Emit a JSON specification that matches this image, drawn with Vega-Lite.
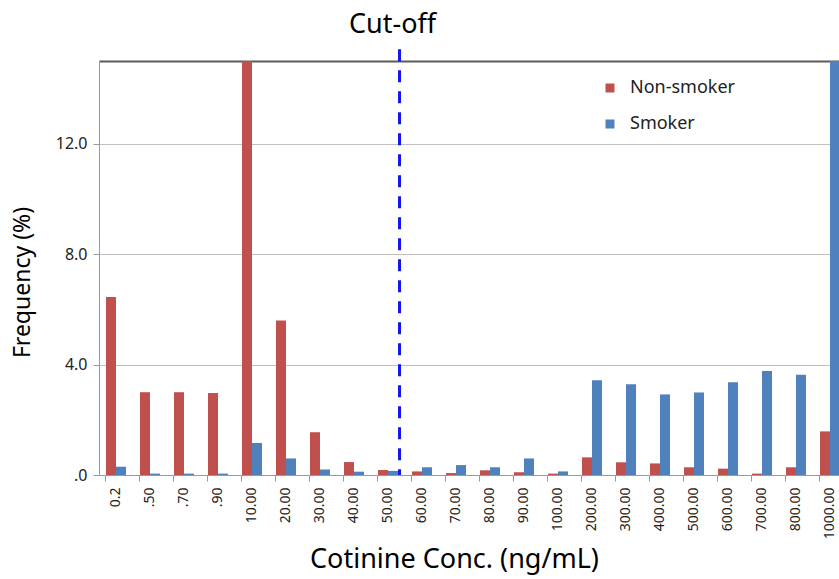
{
  "$schema": "https://vega.github.io/schema/vega-lite/v6.json",
  "width": 748,
  "height": 414,
  "autosize": "none",
  "padding": {"left": 99, "top": 61, "right": -8, "bottom": 104},
  "config": {"view": {"stroke": null}, "font": "Noto Sans"},
  "datasets": {
    "freq": [
      {"conc": "0.2", "group": "Non-smoker", "freq": 6.45},
      {"conc": "0.2", "group": "Smoker", "freq": 0.3},
      {"conc": ".50", "group": "Non-smoker", "freq": 3.0},
      {"conc": ".50", "group": "Smoker", "freq": 0.05},
      {"conc": ".70", "group": "Non-smoker", "freq": 3.0},
      {"conc": ".70", "group": "Smoker", "freq": 0.05},
      {"conc": ".90", "group": "Non-smoker", "freq": 2.97},
      {"conc": ".90", "group": "Smoker", "freq": 0.05},
      {"conc": "10.00", "group": "Non-smoker", "freq": 16.5},
      {"conc": "10.00", "group": "Smoker", "freq": 1.16},
      {"conc": "20.00", "group": "Non-smoker", "freq": 5.6},
      {"conc": "20.00", "group": "Smoker", "freq": 0.6},
      {"conc": "30.00", "group": "Non-smoker", "freq": 1.55},
      {"conc": "30.00", "group": "Smoker", "freq": 0.2},
      {"conc": "40.00", "group": "Non-smoker", "freq": 0.47},
      {"conc": "40.00", "group": "Smoker", "freq": 0.12},
      {"conc": "50.00", "group": "Non-smoker", "freq": 0.18},
      {"conc": "50.00", "group": "Smoker", "freq": 0.15},
      {"conc": "60.00", "group": "Non-smoker", "freq": 0.13},
      {"conc": "60.00", "group": "Smoker", "freq": 0.28},
      {"conc": "70.00", "group": "Non-smoker", "freq": 0.07},
      {"conc": "70.00", "group": "Smoker", "freq": 0.36},
      {"conc": "80.00", "group": "Non-smoker", "freq": 0.17},
      {"conc": "80.00", "group": "Smoker", "freq": 0.28},
      {"conc": "90.00", "group": "Non-smoker", "freq": 0.1},
      {"conc": "90.00", "group": "Smoker", "freq": 0.6},
      {"conc": "100.00", "group": "Non-smoker", "freq": 0.05},
      {"conc": "100.00", "group": "Smoker", "freq": 0.13},
      {"conc": "200.00", "group": "Non-smoker", "freq": 0.64},
      {"conc": "200.00", "group": "Smoker", "freq": 3.43},
      {"conc": "300.00", "group": "Non-smoker", "freq": 0.46},
      {"conc": "300.00", "group": "Smoker", "freq": 3.29},
      {"conc": "400.00", "group": "Non-smoker", "freq": 0.42},
      {"conc": "400.00", "group": "Smoker", "freq": 2.92},
      {"conc": "500.00", "group": "Non-smoker", "freq": 0.28},
      {"conc": "500.00", "group": "Smoker", "freq": 2.99},
      {"conc": "600.00", "group": "Non-smoker", "freq": 0.23},
      {"conc": "600.00", "group": "Smoker", "freq": 3.36},
      {"conc": "700.00", "group": "Non-smoker", "freq": 0.05},
      {"conc": "700.00", "group": "Smoker", "freq": 3.77},
      {"conc": "800.00", "group": "Non-smoker", "freq": 0.28},
      {"conc": "800.00", "group": "Smoker", "freq": 3.63},
      {"conc": "1000.00", "group": "Non-smoker", "freq": 1.58},
      {"conc": "1000.00", "group": "Smoker", "freq": 40}
    ],
    "cutoff": [
      {"conc": "50.00", "label": "Cut-off"}
    ]
  },
  "layer": [
    {
      "data": {"name": "freq"},
      "mark": {"type": "bar", "clip": true},
      "encoding": {
        "x": {
          "field": "conc",
          "type": "nominal",
          "scale": {
            "domain": ["0.2", ".50", ".70", ".90", "10.00", "20.00", "30.00", "40.00", "50.00", "60.00", "70.00", "80.00", "90.00", "100.00", "200.00", "300.00", "400.00", "500.00", "600.00", "700.00", "800.00", "1000.00"],
            "paddingInner": 0.41,
            "paddingOuter": 0.205
          },
          "axis": {
            "title": "Cotinine Conc. (ng/mL)",
            "titleFontSize": 27,
            "titleFontWeight": "normal",
            "titleColor": "#000000",
            "titleX": 355,
            "titleY": 92,
            "titleAlign": "center",
            "titleBaseline": "alphabetic",
            "labelAngle": -90,
            "labelFontSize": 14,
            "labelColor": "#222222",
            "labelPadding": 6,
            "tickSize": 6,
            "bandPosition": 0,
            "domainColor": "#9a9a9a",
            "tickColor": "#9a9a9a",
            "zindex": 1
          }
        },
        "xOffset": {"field": "group", "type": "nominal", "sort": ["Non-smoker", "Smoker"], "scale": {"paddingInner": 0, "paddingOuter": 0}},
        "y": {
          "field": "freq",
          "type": "quantitative",
          "scale": {"domain": [0, 15], "nice": false},
          "axis": {
            "title": "Frequency (%)",
            "titleFontSize": 23,
            "titleFontWeight": "normal",
            "titleColor": "#000000",
            "titleX": -77,
            "titleY": 221,
            "titleAlign": "center",
            "titleBaseline": "middle",
            "values": [0, 4, 8, 12, 15],
            "labelExpr": "datum.value == 15 ? '' : (datum.value == 0 ? '.0' : format(datum.value, '.1f'))",
            "labelFontSize": 16,
            "labelColor": "#222222",
            "labelPadding": 6,
            "tickSize": 6,
            "tickColor": {"condition": {"test": "datum.value == 15", "value": "transparent"}, "value": "#9a9a9a"},
            "domainColor": "#9a9a9a",
            "grid": true,
            "gridColor": {"condition": {"test": "datum.value == 15", "value": "#5a5a5a"}, "value": "#c0c0c0"},
            "gridWidth": {"condition": {"test": "datum.value == 15", "value": 2}, "value": 1.2},
            "gridOpacity": 1
          }
        },
        "color": {
          "field": "group",
          "type": "nominal",
          "scale": {"domain": ["Non-smoker", "Smoker"], "range": ["#C0504D", "#4F81BD"]},
          "legend": {
            "title": null,
            "orient": "none",
            "legendX": 502,
            "legendY": 18,
            "symbolType": "square",
            "symbolSize": 81,
            "symbolStrokeWidth": 0,
            "labelFontSize": 18,
            "labelColor": "#222222",
            "labelOffset": 11,
            "rowPadding": 18
          }
        }
      }
    },
    {
      "data": {"name": "cutoff"},
      "mark": {"type": "rule", "color": "#1414F0", "strokeWidth": 3, "strokeDash": [12, 9]},
      "encoding": {
        "x": {"field": "conc", "type": "nominal", "bandPosition": 1.075},
        "y": {"datum": 15.43},
        "y2": {"datum": 0}
      }
    },
    {
      "data": {"name": "cutoff"},
      "mark": {"type": "text", "fontSize": 27, "dx": -7, "baseline": "alphabetic", "align": "center", "color": "#000000"},
      "encoding": {
        "x": {"field": "conc", "type": "nominal", "bandPosition": 1.075},
        "y": {"datum": 16.0},
        "text": {"field": "label"}
      }
    }
  ]
}
